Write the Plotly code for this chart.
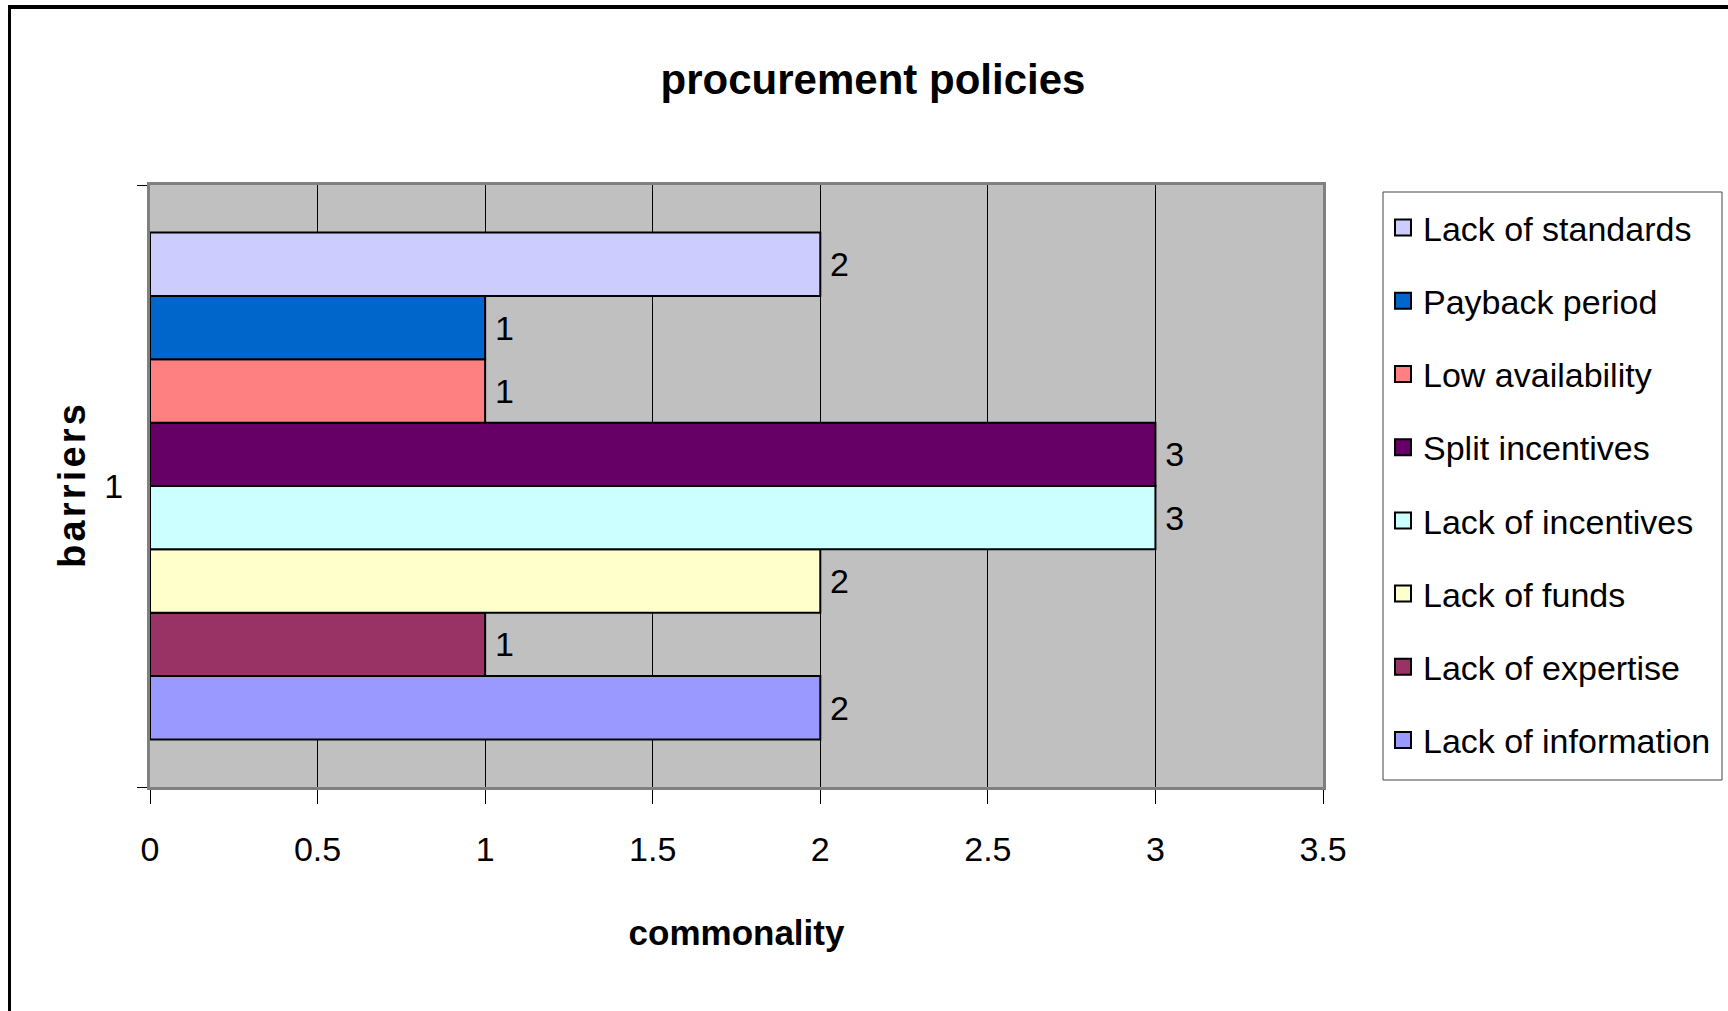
import plotly.graph_objects as go

category = ["1"]
series_names = ["Lack of information", "Lack of expertise", "Lack of funds",
                "Lack of incentives", "Split incentives", "Low availability",
                "Payback period", "Lack of standards"]
series_values = [2, 1, 2, 3, 3, 1, 1, 2]
series_colors = ["#9999FF", "#993366", "#FFFFCC", "#CCFFFF", "#660066",
                 "#FF8080", "#0066CC", "#CCCCFF"]
x_ticks = [0, 0.5, 1, 1.5, 2, 2.5, 3, 3.5]
x_tick_labels = ["0", "0.5", "1", "1.5", "2", "2.5", "3", "3.5"]

FONT = "Liberation Sans Narrow, Arial Narrow, Liberation Sans, Arial, sans-serif"
W, H = 1728, 1011
PL, PR, PT, PB = 150, 1323, 185, 787  # plot area in pixels

fig = go.Figure()
n = len(series_names)
for i, (name, val, col) in enumerate(zip(series_names, series_values, series_colors)):
    fig.add_trace(go.Bar(
        y=category, x=[val], name=name, orientation="h",
        marker=dict(color=col, line=dict(color="black", width=2)),
        text=["\u2009" + str(val)], textposition="outside",
        textfont=dict(size=34, color="black", family=FONT),
        cliponaxis=False, showlegend=False,
    ))
    # legend entry with a larger square swatch
    fig.add_trace(go.Scatter(
        x=[None], y=[None], mode="markers", name=name,
        marker=dict(symbol="square", size=17, color=col,
                    line=dict(color="black", width=2)),
        legendgroup=name, legendrank=100 * (n - i), showlegend=True,
    ))

fig.update_layout(
    width=W, height=H,
    margin=dict(l=PL, r=W - PR, t=PT, b=H - PB),
    paper_bgcolor="white", plot_bgcolor="#C0C0C0",
    barmode="group", bargap=0.158, bargroupgap=0,
    font=dict(family=FONT, color="black"),
    title=dict(text="<b>procurement policies</b>", x=873 / W, xanchor="center",
               y=1 - 79 / H, yanchor="middle",
               font=dict(size=42, family=FONT, color="black")),
    legend=dict(xref="container", yref="container",
                x=1383 / W, y=1 - 199 / H,
                xanchor="left", yanchor="top",
                traceorder="grouped", tracegroupgap=26, maxheight=700,
                borderwidth=0, bgcolor="rgba(0,0,0,0)",
                font=dict(size=34, family=FONT, color="black")),
    showlegend=True,
)

fig.update_xaxes(
    range=[0, 3.5], tickvals=x_ticks, ticktext=x_tick_labels,
    showgrid=True, gridcolor="black", gridwidth=1,
    showline=True, linecolor="#808080", linewidth=3, mirror=True,
    ticks="outside", ticklen=14, tickcolor="black", tickwidth=1,
    ticklabelstandoff=16, automargin=False,
    tickfont=dict(size=34, family=FONT, color="black"),
    title=dict(text="<b>commonality</b>", standoff=54,
               font=dict(size=35, family=FONT, color="black")),
    zeroline=False,
)
fig.update_yaxes(
    type="category", categoryorder="array", categoryarray=category,
    showline=True, linecolor="#808080", linewidth=3, mirror=True,
    ticks="outside", ticklen=10, tickcolor="black", tickson="boundaries",
    showgrid=False, automargin=False, ticklabelstandoff=17,
    tickfont=dict(size=34, family=FONT, color="black"),
    title=dict(text="<b>" + "\u200a".join("barriers") + "</b>", standoff=7,
               font=dict(size=38, family=FONT, color="black")),
)


def px_x(p):
    return (p - PL) / (PR - PL)


def px_y(p):
    return (PB - p) / (PB - PT)


# legend box
fig.add_shape(type="rect", xref="paper", yref="paper",
              x0=px_x(1383), x1=px_x(1722), y0=px_y(780), y1=px_y(192),
              line=dict(color="#444444", width=1), fillcolor="white",
              layer="below")

# outer chart frame (top edge thick, left edge; right/bottom lie outside the image)
fig.add_shape(type="line", xref="paper", yref="paper",
              x0=px_x(8), x1=px_x(W + 20), y0=px_y(7), y1=px_y(7),
              line=dict(color="black", width=4), layer="above")
fig.add_shape(type="line", xref="paper", yref="paper",
              x0=px_x(9.5), x1=px_x(9.5), y0=px_y(5), y1=px_y(H + 20),
              line=dict(color="black", width=3), layer="above")

fig.write_html("out.html", config={"displayModeBar": False},
               post_script="document.body.style.margin='0';")
